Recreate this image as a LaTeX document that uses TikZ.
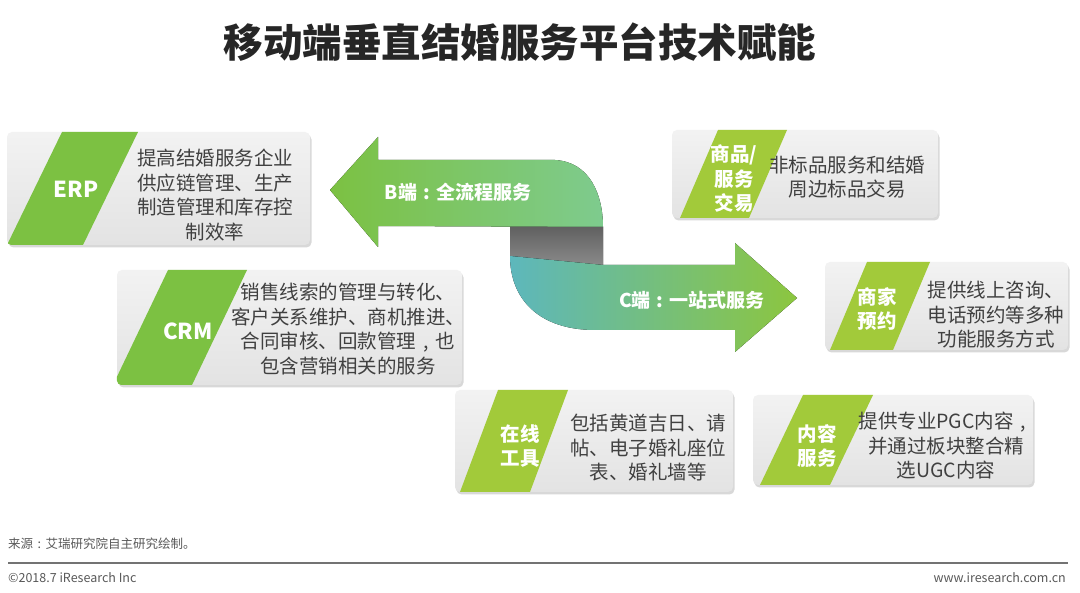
\documentclass[tikz,border=0pt]{standalone}
\usepackage{fontspec}
\setmainfont{Noto Sans CJK SC}
\usetikzlibrary{shadows}
\definecolor{gdark}{HTML}{7CC142}
\definecolor{glight}{HTML}{A2CA3A}
\definecolor{tealC}{HTML}{5DB7BC}
\definecolor{tealB}{HTML}{7ECB8E}
\definecolor{greenC}{HTML}{8CC63F}
\definecolor{desctxt}{HTML}{404040}
\definecolor{foot}{HTML}{595959}
\newcommand\cpunct[1]{\hbox to 1em{\hss#1\hss}}
\tikzset{
  infobox/.style={rounded corners=5pt, draw=none, top color=white!95!black, bottom color=white!89!black,
    drop shadow={opacity=0.3, shadow xshift=1.5pt, shadow yshift=-2.5pt}, inner sep=0pt},
  tagtxt/.style={text=white, font=\bfseries\fontsize{19.5}{24.5}\selectfont, align=center, inner sep=0pt},
  tagbig/.style={text=white, font=\bfseries\fontsize{22}{26}\selectfont, inner sep=0pt},
  desc/.style={text=desctxt, font=\fontsize{19.5}{24.5}\selectfont, align=center, inner sep=0pt},
  arrowtxt/.style={text=white, font=\bfseries\fontsize{19}{23}\selectfont, inner sep=0pt},
  foottxt/.style={text=foot, font=\fontsize{12.5}{15}\selectfont, inner sep=0pt},
}
\begin{document}
\begin{tikzpicture}[x=1pt,y=-1pt]
\useasboundingbox[fill=white] (0,0) rectangle (1080,593);

% title
\node[font=\bfseries\fontsize{39.5}{44}\selectfont, text=black!85] (title) at (520,42) {移动端垂直结婚服务平台技术赋能};

% central ribbon arrows
\fill[left color=gdark, right color=tealB] (330,190) -- (378,137) -- (378,160) -- (555,160)
  .. controls (590,162) and (603,195) .. (603,227) -- (378,226) -- (378,247) -- cycle;
\fill[top color=black!62, bottom color=black!46] (510,227) -- (603,227) -- (603,265) -- (510,256) -- cycle;
\fill[left color=tealC, middle color=greenC!85!tealC, right color=greenC] (510,256) -- (603,265) -- (735,265) -- (735,243) -- (797,298)
  -- (735,352) -- (735,330) -- (595,330) .. controls (540,330) and (510,300) .. (510,256) -- cycle;
\node[arrowtxt] (btxt) at (458,192) {B端\cpunct{:}全流程服务};
\node[arrowtxt] (ctxt) at (692,300) {C端\cpunct{:}一站式服务};

% ERP
\node[infobox, minimum width=303pt, minimum height=113pt] (erpbox) at (158.5,188.5) {};
\begin{scope}
\clip[rounded corners=5pt] (erpbox.south west) rectangle (erpbox.north east);
\fill[gdark] (62,132) -- (138,132) -- (83,245) -- (7,245) -- cycle;
\end{scope}
\node[tagbig] (erp) at (76,189) {ERP};
\node[desc] (erpdesc) at (215,195) {提高结婚服务企业\\供应链管理、生产\\制造管理和库存控\\制效率};

% CRM
\node[infobox, minimum width=345pt, minimum height=115pt] (crmbox) at (289.5,327.5) {};
\begin{scope}
\clip[rounded corners=5pt] (crmbox.south west) rectangle (crmbox.north east);
\fill[gdark] (168,270) -- (247,270) -- (192,385) -- (113,385) -- cycle;
\end{scope}
\node[tagbig] (crm) at (188,331) {CRM};
\node[desc] (crmdesc) at (348,329) {销售线索的管理与转化、\\客户关系维护、商机推进、\\合同审核、回款管理\cpunct{,}也\\包含营销相关的服务};

% goods
\node[infobox, minimum width=266pt, minimum height=88pt] (goodsbox) at (805,174) {};
\begin{scope}
\clip[rounded corners=5pt] (goodsbox.south west) rectangle (goodsbox.north east);
\fill[glight] (718,130) -- (787,130) -- (749,218) -- (680,218) -- cycle;
\end{scope}
\node[tagtxt] (goods) at (734,179) {商品/\\服务\\交易};
\node[desc] (goodsdesc) at (847,177) {非标品服务和结婚\\周边标品交易};

% merchant
\node[infobox, minimum width=243pt, minimum height=88pt] (merbox) at (946.5,306) {};
\begin{scope}
\clip[rounded corners=5pt] (merbox.south west) rectangle (merbox.north east);
\fill[glight] (867,262) -- (930,262) -- (893,350) -- (830,350) -- cycle;
\end{scope}
\node[tagtxt] (mer) at (877,309) {商家\\预约};
\node[desc] (merdesc) at (996,315) {提供线上咨询、\\电话预约等多种\\功能服务方式};

% tools
\node[infobox, minimum width=278pt, minimum height=102pt] (toolbox) at (594,441) {};
\begin{scope}
\clip[rounded corners=5pt] (toolbox.south west) rectangle (toolbox.north east);
\fill[glight] (498,390) -- (568,390) -- (530,492) -- (460,492) -- cycle;
\end{scope}
\node[tagtxt] (tool) at (520,446) {在线\\工具};
\node[desc] (tooldesc) at (648,448) {包括黄道吉日、请\\帖、电子婚礼座位\\表、婚礼墙等};

% content
\node[infobox, minimum width=280pt, minimum height=90pt] (conbox) at (893,440) {};
\begin{scope}
\clip[rounded corners=5pt] (conbox.south west) rectangle (conbox.north east);
\fill[glight] (803,395) -- (873,395) -- (830,485) -- (760,485) -- cycle;
\end{scope}
\node[tagtxt] (con) at (817,446) {内容\\服务};
\node[desc] (condesc) at (946,446) {提供专业PGC内容\cpunct{,}\\并通过板块整合精\\选UGC内容};

% footer
\node[foottxt, anchor=west] (src) at (8,544) {来源\cpunct{:}艾瑞研究院自主研究绘制。};
\coordinate (ll) at (8,563);
\coordinate (lr) at (1068,563);
\draw[line width=1.6pt, black!55] (ll) -- (lr);
\node[foottxt, anchor=west] (copy) at (8,578) {©2018.7 iResearch Inc};
\node[foottxt, anchor=east] (web) at (1066,578) {www.iresearch.com.cn};
\end{tikzpicture}
\end{document}
